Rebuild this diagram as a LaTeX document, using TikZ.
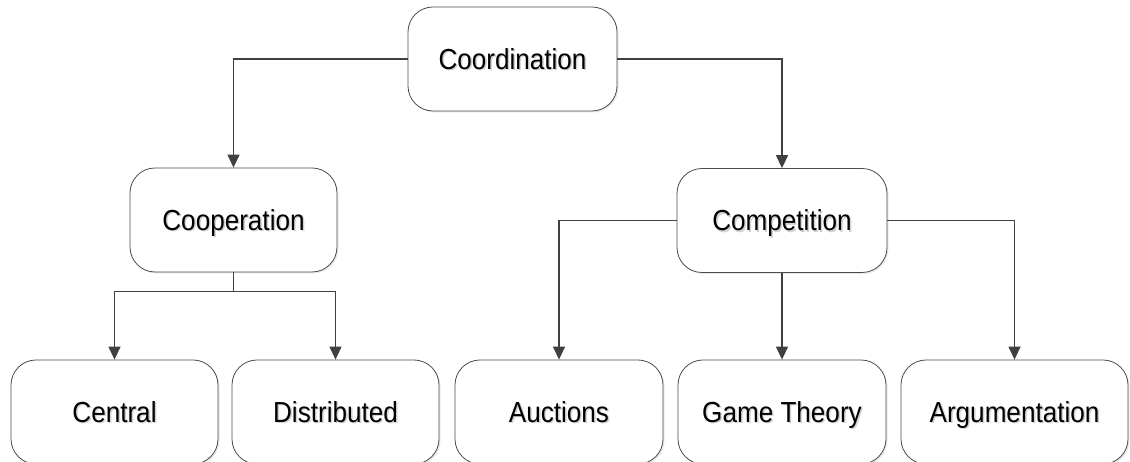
\documentclass[tikz,border=0pt]{standalone}
\usepackage{fontspec}
\setmainfont{Liberation Sans}[FakeStretch=0.9]
\usetikzlibrary{arrows.meta,shadows}

% text with a soft grey shadow behind it
\newcommand\txtshadow[1]{\leavevmode\rlap{\kern1.5pt\raisebox{-1.5pt}{\textcolor{black!18}{#1}}}#1}

\tikzset{
  box/.style={rectangle, rounded corners=25pt, draw=black!70, line width=0.8pt,
    fill=white, minimum width=207pt, minimum height=104pt, inner sep=0pt,
    text height=21pt, text depth=0pt,
    drop shadow={opacity=0.18, shadow xshift=1.5pt, shadow yshift=-1.5pt},
    font=\fontsize{29}{34}\selectfont},
  link/.style={draw=black!75, line width=1.4pt},
  arr/.style={link, -{Triangle[width=12pt,length=13pt]}},
}

\begin{document}
\begin{tikzpicture}[x=1pt,y=1pt]
\useasboundingbox (0,0) rectangle (1130,462);

% top level
\node[box, minimum width=209pt] (coord) at (512.5,403) {\txtshadow{Coordination}};

% second level
\node[box] (coop) at (233.5,242) {\txtshadow{Cooperation}};
\node[box, minimum width=210pt] (comp) at (782,241.5) {\txtshadow{Competition}};

% leaves
\node[box] (central) at (114.5,50) {\txtshadow{Central}};
\node[box] (distr) at (335.5,50) {\txtshadow{Distributed}};
\node[box, minimum width=208pt] (auct) at (559,50) {\txtshadow{Auctions}};
\node[box, minimum width=208pt] (game) at (782,50) {\txtshadow{Game Theory}};
\node[box, minimum width=227pt] (argu) at (1014.5,50) {\txtshadow{Argumentation}};

% connectors
\draw[arr] (coord.west) -| (coop.north);
\draw[arr] (coord.east) -| (comp.north);

\draw[link] (coop.south) -- ++(0,-19) coordinate (coopj);
\draw[arr] (coopj) -| (central.north);
\draw[arr] (coopj) -| (distr.north);

\draw[arr] (comp.west) -| (auct.north);
\draw[arr] (comp.south) -- (game.north);
\draw[arr] (comp.east) -| (argu.north);
\end{tikzpicture}
\end{document}
